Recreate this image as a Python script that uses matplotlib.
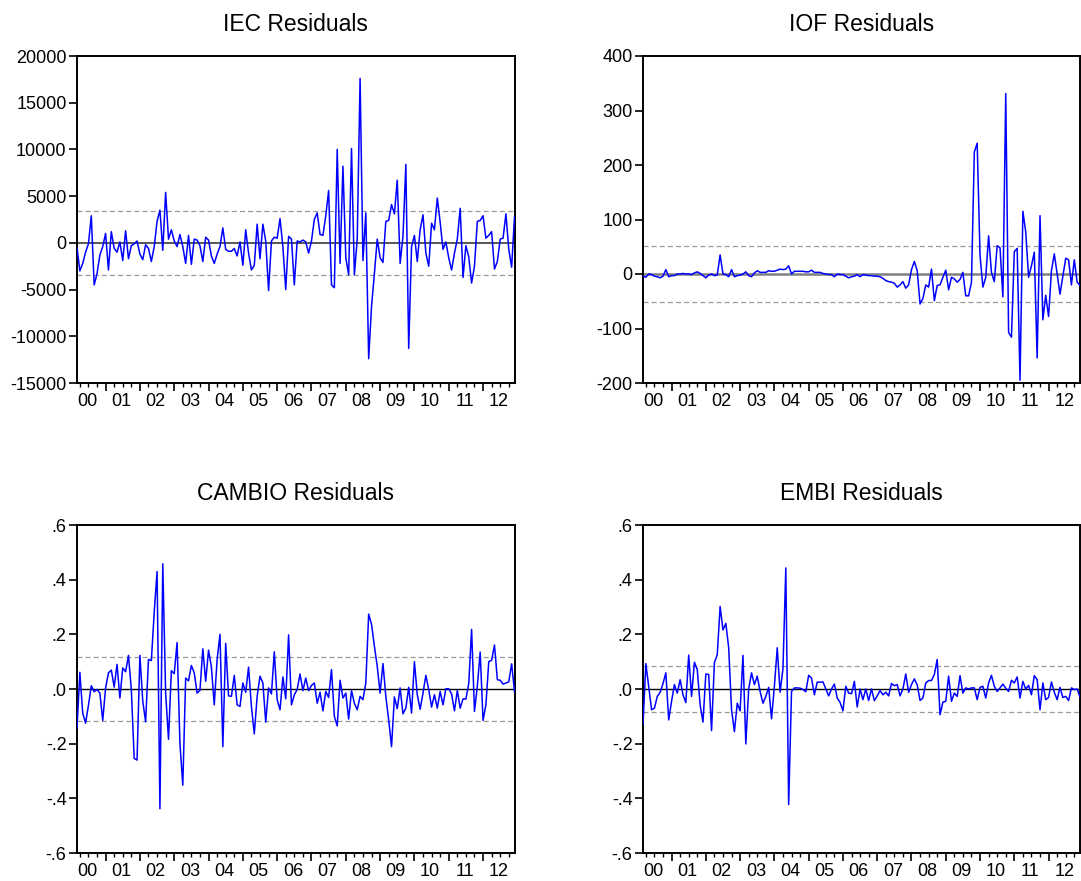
import numpy as np
import matplotlib
matplotlib.use("Agg")
import matplotlib.pyplot as plt

plt.rcParams['font.family'] = ['Liberation Sans', 'DejaVu Sans']

# ---------------- data (monthly residuals, 2000M03 - 2012M12) ----------------
start_month = 2  # months since 2000M01 of first observation (2000M03)
year_labels = ["00", "01", "02", "03", "04", "05", "06", "07", "08", "09", "10", "11", "12"]

iec = [-500, -3000, -2200, -1000, -100, 2900, -4500, -3300, -1300, -400,
       1000, -2900, 1200, -600, -1000, 100, -1900, 1300, -1700, -300,
       -100, 200, -1200, -1800, -200, -600, -2000, -400, 2300, 3500,
       -800, 5400, 400, 1400, 200, -400, 900, -400, -2200, 800,
       -2300, 400, 300, -300, -2000, 600, 300, -1400, -2200, -1200,
       -400, 1600, -700, -900, -900, -600, -1400, 100, -2400, 1400,
       -1100, -2900, -2400, 2000, -1700, 2000, 200, -5100, 200, 600,
       500, 2600, -400, -5000, 700, 400, -4500, 200, 100, 300,
       100, -1100, 200, 2500, 3200, 900, 800, 2900, 5600, -4500,
       -4800, 10000, -2200, 8200, -1600, -3400, 10100, -3400, 400, 17600,
       -1900, 3200, -12400, -6800, -3300, 400, -1600, -2100, 2300, 2400,
       4100, 3100, 6700, -2200, 700, 8400, -11300, -400, 800, -2000,
       1400, 3000, -1100, -2500, 2100, 1400, 4800, 2200, -700, 100,
       -1600, -2900, -1100, 400, 3700, -3700, -300, -1500, -4300, -2500,
       2300, 2400, 2900, 500, 800, 1200, -2800, -2000, 400, 500,
       3100, -700, -2600, 2800]

iof = [-4, -6, 0, -1, -4, -5, -7, -4, 8, -5,
       -3, -3, 0, 0, 1, 0, 0, -1, 2, 4,
       1, -3, -7, -2, 0, -3, -2, 35, 0, -1,
       -5, 8, -5, -3, -2, 0, 4, -3, -5, 2,
       6, 3, 3, 3, 6, 5, 5, 7, 9, 8,
       9, 15, 0, 5, 5, 5, 5, 4, 4, 7,
       3, 3, 3, 1, 0, -1, -1, -5, 0, -1,
       -1, -4, -7, -5, -4, -1, -5, -1, -2, -3,
       -3, -4, -4, -5, -8, -12, -14, -15, -17, -24,
       -20, -14, -26, -20, 8, 23, 6, -55, -45, -20,
       -24, 9, -49, -21, -20, -6, 7, -29, -6, -9,
       -15, -10, 3, -40, -40, -15, 224, 240, 34, -24,
       -6, 70, 3, -14, 52, 48, -42, 331, -107, -116,
       41, 47, -195, 115, 77, -6, 15, 40, -154, 107,
       -84, -39, -78, 6, 37, 0, -37, -4, 29, 26,
       -20, 26, -15, -21]

cambio = [-0.144, 0.061, -0.088, -0.125, -0.060, 0.012, -0.010, -0.002, -0.015, -0.115,
          0.004, 0.059, 0.069, 0.007, 0.090, -0.033, 0.077, 0.063, 0.123, -0.002,
          -0.254, -0.260, 0.123, -0.045, -0.120, 0.108, 0.104, 0.280, 0.430, -0.438,
          0.458, -0.015, -0.184, 0.067, 0.056, 0.170, -0.200, -0.352, 0.040, 0.030,
          0.086, 0.059, -0.015, -0.005, 0.147, 0.028, 0.142, 0.081, -0.058, 0.108,
          0.200, -0.211, 0.167, -0.025, -0.027, 0.050, -0.058, -0.064, 0.022, -0.012,
          0.080, -0.064, -0.164, -0.027, 0.047, 0.022, -0.121, 0.004, -0.018, 0.136,
          -0.039, -0.076, 0.044, -0.036, 0.198, -0.058, -0.021, -0.002, 0.055, -0.006,
          0.040, -0.006, 0.013, 0.022, -0.052, -0.012, -0.080, -0.009, -0.031, 0.071,
          -0.100, -0.135, 0.032, -0.033, -0.015, -0.110, -0.006, -0.052, -0.076, -0.027,
          -0.039, 0.022, 0.274, 0.237, 0.157, 0.083, -0.015, 0.093, -0.027, -0.113,
          -0.211, -0.029, -0.072, 0.004, -0.091, -0.070, 0.006, -0.088, 0.100, -0.021,
          -0.074, -0.015, 0.050, -0.002, -0.066, -0.021, -0.070, -0.009, -0.058, 0.001,
          0.001, -0.018, -0.080, -0.005, -0.070, -0.036, -0.037, 0.020, 0.218, -0.082,
          0.010, 0.135, -0.115, -0.058, 0.100, 0.105, 0.161, 0.034, 0.032, 0.018,
          0.022, 0.026, 0.092, -0.009]

embi = [-0.131, 0.093, 0.010, -0.076, -0.070, -0.027, -0.012, 0.020, 0.059, -0.113,
        -0.045, 0.016, -0.015, 0.034, -0.021, -0.050, 0.124, -0.027, 0.098, 0.071,
        -0.058, -0.121, 0.055, 0.053, -0.152, 0.096, 0.126, 0.302, 0.216, 0.240,
        0.151, -0.076, -0.156, -0.052, -0.080, 0.123, -0.201, 0.000, 0.059, 0.016,
        0.047, -0.009, -0.052, -0.027, 0.006, -0.109, 0.010, 0.151, -0.012, 0.074,
        0.443, -0.423, -0.009, 0.004, 0.004, 0.003, -0.002, -0.010, 0.050, 0.040,
        -0.021, 0.025, 0.025, 0.026, 0.000, -0.025, 0.000, 0.018, -0.033, -0.049,
        -0.080, 0.010, -0.015, -0.017, 0.028, -0.066, 0.000, -0.039, 0.000, -0.042,
        0.000, -0.043, -0.025, -0.006, -0.021, -0.012, -0.025, 0.020, 0.012, 0.016,
        -0.025, 0.000, 0.055, -0.012, 0.016, 0.037, 0.015, -0.042, -0.033, 0.022,
        0.031, 0.031, 0.053, 0.108, -0.094, -0.048, -0.045, 0.047, -0.045, -0.015,
        -0.027, 0.049, -0.015, 0.004, 0.000, 0.004, 0.004, -0.039, 0.006, 0.010,
        -0.033, 0.022, 0.050, 0.010, -0.009, 0.004, 0.018, 0.003, -0.009, 0.032,
        0.022, 0.044, -0.033, 0.028, 0.000, 0.013, -0.021, 0.049, 0.034, -0.076,
        0.022, -0.039, -0.031, 0.026, -0.012, -0.039, 0.006, -0.031, -0.027, -0.042,
        0.004, -0.002, 0.000, -0.029]

titles = ["IEC Residuals", "IOF Residuals", "CAMBIO Residuals", "EMBI Residuals"]
series = [iec, iof, cambio, embi]
bands = [3400, 52, 0.118, 0.084]
ylims = [(-15000, 20000), (-200, 400), (-0.6, 0.6), (-0.6, 0.6)]
yticks = [[-15000, -10000, -5000, 0, 5000, 10000, 15000, 20000],
          [-200, -100, 0, 100, 200, 300, 400],
          [-0.6, -0.4, -0.2, 0.0, 0.2, 0.4, 0.6],
          [-0.6, -0.4, -0.2, 0.0, 0.2, 0.4, 0.6]]
yticklabels = [["-15000", "-10000", "-5000", "0", "5000", "10000", "15000", "20000"],
               ["-200", "-100", "0", "100", "200", "300", "400"],
               ["-.6", "-.4", "-.2", ".0", ".2", ".4", ".6"],
               ["-.6", "-.4", "-.2", ".0", ".2", ".4", ".6"]]

# ---------------- layout ----------------
W, H = 1081, 881
fig = plt.figure(figsize=(W / 100, H / 100), dpi=100)
boxes = [(77, 56, 514.5, 383), (643, 56, 1080, 383),
         (77, 525, 514.5, 853), (643, 525, 1080, 853)]
zero_styles = [dict(color="#4a4a4a", lw=1.3), dict(color="#808080", lw=1.8),
               dict(color="black", lw=1.0), dict(color="black", lw=1.0)]

for k in range(4):
    l, t, r, b = boxes[k]
    ax = fig.add_axes([l / W, 1 - b / H, (r - l) / W, (b - t) / H])
    y = np.array(series[k], dtype=float)
    x = np.arange(start_month, start_month + len(y))
    ax.axhline(0, zorder=1, **zero_styles[k])
    ax.axhline(bands[k], color="#999999", lw=0.9, ls=(0, (4, 2.5)), zorder=1)
    ax.axhline(-bands[k], color="#999999", lw=0.9, ls=(0, (4, 2.5)), zorder=1)
    ax.plot(x, y, color="#0000ff", lw=1.1, zorder=3)
    ax.set_xlim(x[0], x[-1])
    ax.set_ylim(*ylims[k])
    ax.set_yticks(yticks[k])
    ax.set_yticklabels(yticklabels[k], fontsize=13)
    # year starts (major) and quarters (minor)
    year_starts = [12 * j for j in range(1, 13)]
    quarters = [3 * j for j in range(1, 52) if (3 * j) % 12 != 0]
    ax.set_xticks(year_starts)
    ax.set_xticks(quarters, minor=True)
    ax.tick_params(axis="x", which="major", direction="out", length=5.5, width=1.2,
                   labelbottom=False)
    ax.tick_params(axis="x", which="minor", direction="out", length=3, width=1.0)
    ax.tick_params(axis="y", which="major", direction="out", length=5.5, width=1.2,
                   pad=2)
    for s in ax.spines.values():
        s.set_linewidth(1.4)
    sec = ax.secondary_xaxis("bottom")
    sec.set_xticks([12 * j + 5.5 for j in range(13)])
    sec.set_xticklabels(year_labels, fontsize=13)
    sec.tick_params(length=0, pad=7)
    sec.spines["bottom"].set_visible(False)
    ax.set_title(titles[k], fontsize=16.5, pad=18)

fig.savefig("out.png", dpi=100)
